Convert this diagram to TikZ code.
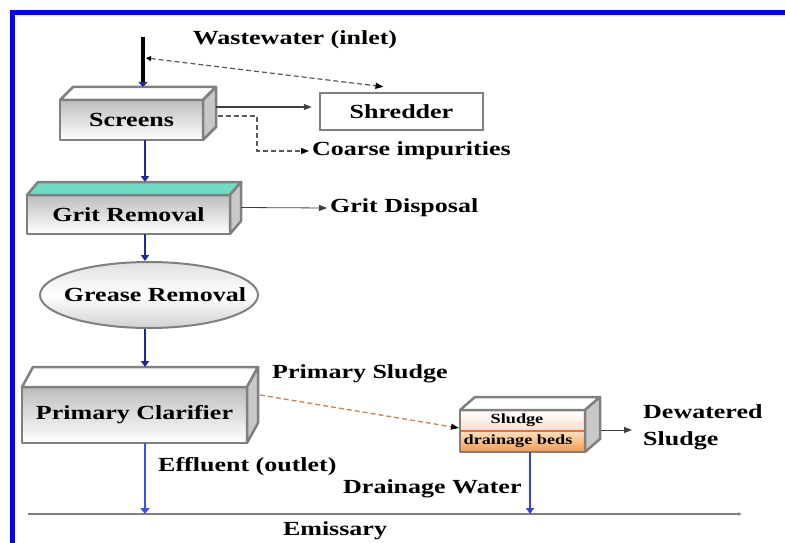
\documentclass[tikz,border=0pt]{standalone}
\usepackage{fontspec}
\setmainfont{Liberation Serif}[FakeStretch=1.3]
\usetikzlibrary{arrows.meta,calc,shapes.geometric}

\definecolor{frameblue}{RGB}{0,0,255}
\definecolor{edgegray}{RGB}{128,128,128}
\definecolor{sidegray}{RGB}{200,200,200}
\definecolor{navyflow}{RGB}{32,40,150}
\definecolor{flowblue}{RGB}{60,80,240}
\definecolor{gritteal}{RGB}{110,220,195}
\definecolor{sludgeline}{RGB}{195,135,85}
\definecolor{bedorange}{RGB}{245,155,70}
\definecolor{bedpink}{RGB}{253,222,205}
\definecolor{bedline}{RGB}{240,110,50}

\tikzset{
  frontface/.style={draw=edgegray, line width=2.5pt, line join=round,
    top color=black!26, bottom color=white, inner sep=0pt, outer sep=0pt,
    font=\bfseries\fontsize{20}{22}\selectfont},
  facedge/.style={draw=edgegray, line width=2.5pt, line join=round},
  lbl/.style={font=\bfseries\fontsize{20}{22}\selectfont, text=black, inner sep=3pt},
  smalllbl/.style={font=\bfseries\fontsize{14}{15}\selectfont, text=black, inner sep=0pt},
  flow/.style={draw=navyflow, line width=1.6pt,
    -{Triangle[length=6pt,width=8pt]}},
  outflow/.style={draw=flowblue, line width=2pt,
    -{Triangle[length=6pt,width=9pt]}},
  side/.style={draw=black!75, line width=1pt,
    -{Triangle[length=8pt,width=6pt]}},
  dashside/.style={draw=black!65, line width=1.2pt, dash pattern=on 5pt off 3pt,
    -{Triangle[length=8pt,width=6pt,color=black]}},
}

% top and right faces of a 3D block whose front face is node #1
\newcommand\blockfaces[4]{%
  \draw[facedge, fill=#4] (#1.north west) -- ++(#2,#3)
    -- ($(#1.north east)+(#2,#3)$) -- (#1.north east) -- cycle;
  \draw[facedge, fill=sidegray] (#1.north east) -- ++(#2,#3)
    -- ($(#1.south east)+(#2,#3)$) -- (#1.south east) -- cycle;}

\begin{document}
\begin{tikzpicture}[x=1pt,y=1pt]
\useasboundingbox (0,0) rectangle (785,-543);

% frame
\draw[frameblue, line width=5pt, line join=miter] (12.5,-543) -- (12.5,-13) -- (785,-13);

% process blocks
\node[frontface, minimum width=143pt, minimum height=40pt] (screens) at (131.5,-120) {Screens};
\blockfaces{screens}{13}{13}{white}

\node[frontface, minimum width=203pt, minimum height=39pt] (grit) at (128.5,-214.5) {Grit Removal};
\blockfaces{grit}{11}{13}{gritteal}

\node[ellipse, draw=edgegray, line width=2pt, top color=black!12, bottom color=black!18,
  middle color=white, minimum width=218pt, minimum height=66pt, inner sep=0pt] (grease) at (149,-295) {};
\node[lbl] (greaseT) at (155,-295) {Grease Removal};

\node[frontface, minimum width=225pt, minimum height=56pt] (pc) at (134.5,-415) {Primary Clarifier};
\blockfaces{pc}{11}{20}{white}

\node[draw=edgegray, line width=2.5pt, minimum width=163pt, minimum height=37pt,
  inner sep=0pt, font=\bfseries\fontsize{20}{22}\selectfont] (shredder) at (401.5,-111.5) {Shredder};

% sludge drainage beds block
\node[minimum width=125pt, minimum height=42pt, inner sep=0pt, outer sep=0pt] (beds) at (522.5,-431) {};
\fill[top color=white, bottom color=bedpink] (beds.north west) rectangle (beds.east);
\fill[top color=bedorange!30, bottom color=bedorange] (beds.west) rectangle (beds.south east);
\draw[bedline, line width=1.2pt] (beds.west) -- (beds.east);
\draw[facedge] (beds.north west) rectangle (beds.south east);
\blockfaces{beds}{15}{13}{white}
\node[smalllbl] (bedsA) at (517,-420) {Sludge};
\node[smalllbl] (bedsB) at (518,-441) {drainage beds};

% labels
\node[lbl] (inletT) at (295,-40) {Wastewater (inlet)};
\node[lbl, anchor=west] (coarse) at (309,-151) {Coarse impurities};
\node[lbl, anchor=west] (gritdisp) at (327,-208) {Grit Disposal};
\node[lbl, anchor=west] (psludge) at (269,-374) {Primary Sludge};
\node[lbl, anchor=west] (effl) at (155,-467) {Effluent (outlet)};
\node[lbl, anchor=west] (drainw) at (340,-489) {Drainage Water};
\node[lbl, anchor=west, align=left, font=\bfseries\fontsize{20}{27}\selectfont] (dewat) at (640,-427) {Dewatered\\Sludge};
\node[lbl] (emissT) at (335,-531) {Emissary};

% emissary line
\coordinate (emL) at (28,-514);
\coordinate (emR) at (742,-514);
\draw[edgegray, line width=2.5pt, -{Latex[length=4pt,width=4pt]}] (emL) -- (emR);

% inlet
\coordinate (inletTop) at (143,-37);
\draw[black, line width=3.2pt, -{Triangle[length=5pt,width=9pt,color=navyflow]}]
  (inletTop) -- ($(screens.north)+(11.5,13)$);
\coordinate (dashL) at (146,-58);
\draw[draw=black!65, line width=1.2pt, dash pattern=on 5pt off 3pt,
  {Triangle[length=5pt,width=5pt,color=black]}-{Triangle[length=8pt,width=6pt,color=black]}]
  (dashL) -- ($(shredder.north)+(-18,5)$);

% screens outputs
\draw[side] ($(screens.east)+(13,13)$) -- ($(shredder.west)+(-7,4.5)$);
\draw[dashside] ($(screens.east)+(15,4)$) -- ++(39,0) |- (coarse.west);

% main flow
\draw[flow] ($(screens.south)+(13.5,0)$) -- ($(grit.north)+(16.5,13)$);
\draw[side, line width=0.8pt] ($(grit.east)+(11,7)$) -- (gritdisp.west);
\draw[flow] ($(grit.south)+(16.5,0)$) -- ($(grease.north)+(-4,0)$);
\draw[flow] ($(grease.south)+(-4,0)$) -- ($(pc.north)+(10.5,20)$);

\coordinate (pcOut) at ($(pc.south)+(10.5,0)$);
\draw[outflow] (pcOut) -- (pcOut |- emL);

% sludge line
\draw[draw=sludgeline, line width=1.3pt, dash pattern=on 5pt off 3pt,
  -{Triangle[length=8pt,width=6pt,color=black]}]
  ($(pc.east)+(13,20)$) -- ($(beds.west)+(-1,3)$);
\coordinate (bedsRt) at ($(beds.east)+(16,1)$);
\draw[side] (bedsRt) -- ($(bedsRt)+(31,0)$);

\coordinate (bedsOut) at ($(beds.south)+(7.5,0)$);
\draw[flow, draw=flowblue!70!navyflow] (bedsOut) -- (bedsOut |- emL);
\end{tikzpicture}
\end{document}
